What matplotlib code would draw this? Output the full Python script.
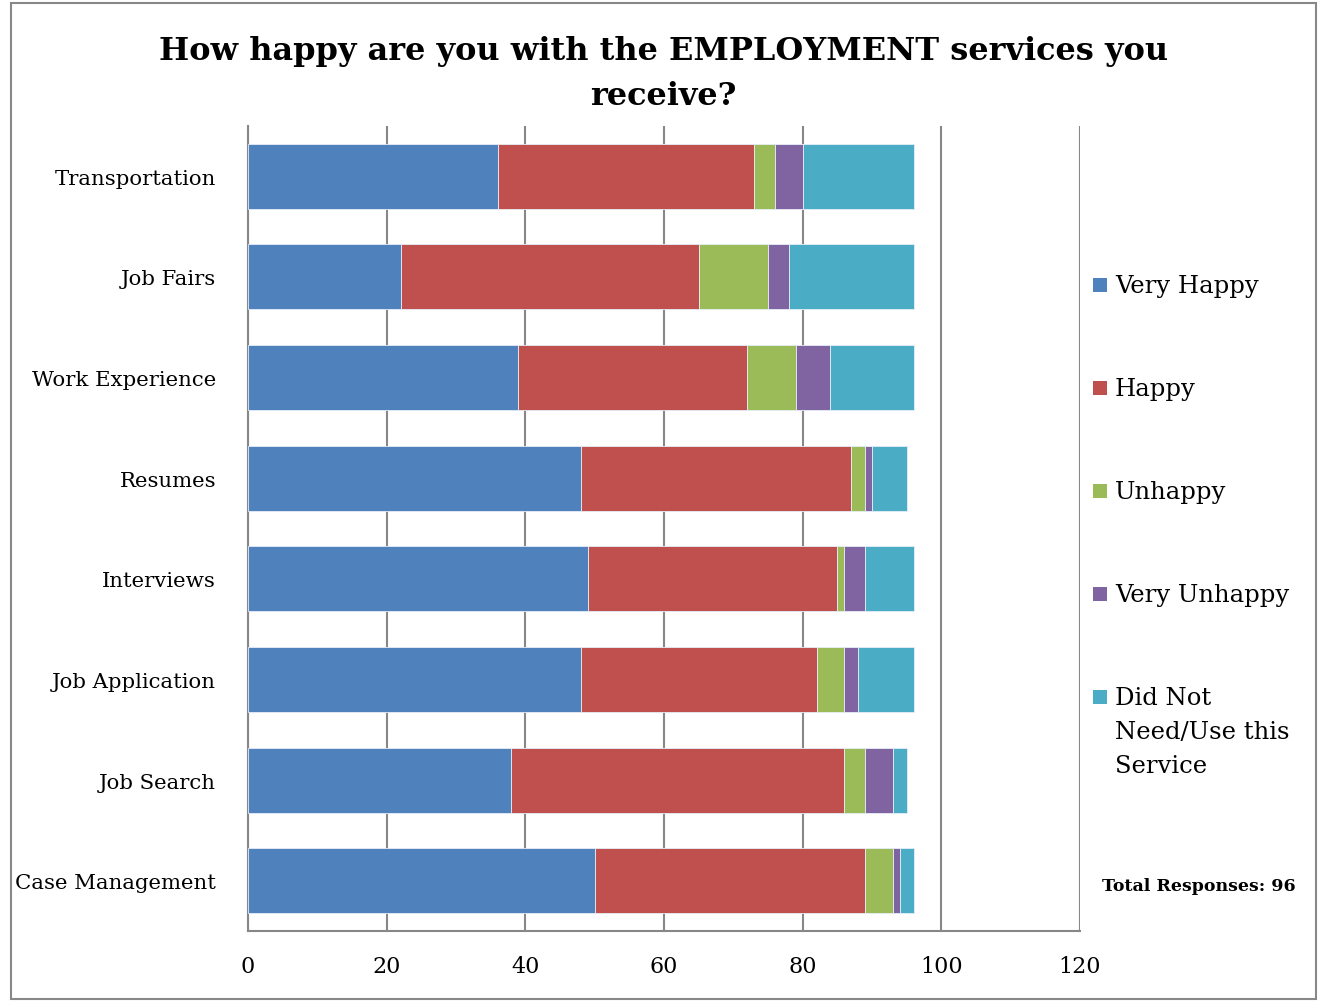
import matplotlib
matplotlib.use('Agg')
import matplotlib.pyplot as plt
from matplotlib.patches import Rectangle
import numpy as np

# Survey responses (counts), categories listed top to bottom
categories = ['Transportation', 'Job Fairs', 'Work Experience', 'Resumes',
              'Interviews', 'Job Application', 'Job Search', 'Case Management']
very_happy = [36, 22, 39, 48, 49, 48, 38, 50]
happy = [37, 43, 33, 39, 36, 34, 48, 39]
unhappy = [3, 10, 7, 2, 1, 4, 3, 4]
very_unhappy = [4, 3, 5, 1, 3, 2, 4, 1]
not_used = [16, 18, 12, 5, 7, 8, 2, 2]

series_names = ['Very Happy', 'Happy', 'Unhappy', 'Very Unhappy',
                'Did Not\nNeed/Use this\nService']
colors = ['#4F81BD', '#C0504D', '#9BBB59', '#8064A2', '#4BACC6']
x_ticks = [0, 20, 40, 60, 80, 100, 120]

plt.rcParams['font.family'] = ['DejaVu Serif']

W, H = 1319, 1004
fig = plt.figure(figsize=(W / 100, H / 100), dpi=100)
ax = fig.add_axes([248 / W, 72 / H, 832 / W, 805 / H])

y = np.arange(len(categories))
left = np.zeros(len(categories))
for vals, name, c in zip([very_happy, happy, unhappy, very_unhappy, not_used],
                         series_names, colors):
    ax.barh(y, vals, left=left, height=0.645, color=c, label=name,
            edgecolor='#e6eef7', linewidth=0.6, zorder=3)
    left += np.array(vals)

ax.set_xlim(0, 120)
ax.set_ylim(len(categories) - 0.5, -0.5)
ax.set_xticks(x_ticks)
ax.set_yticks(y)
ax.set_yticklabels(categories, fontsize=15.3)
ax.tick_params(axis='y', length=0, pad=23)
ax.tick_params(axis='x', length=0, pad=17, labelsize=16)
ax.grid(axis='x', color='#878787', linewidth=1.5, zorder=0)
for s in ['top', 'right']:
    ax.spines[s].set_visible(False)
for s in ['left', 'bottom']:
    ax.spines[s].set_color('#878787')
    ax.spines[s].set_linewidth(1.5)

fig.text(0.503, 1 - 74 / H,
         'How happy are you with the EMPLOYMENT services you\nreceive?',
         fontsize=23, fontweight='bold', ha='center', va='center',
         linespacing=1.6)

# legend drawn by hand so the multi-line entry keeps its marker at the top line
leg_top = 286
leg_step = 103
for i, (name, c) in enumerate(zip(series_names, colors)):
    yc = leg_top + i * leg_step
    fig.patches.append(Rectangle((1093 / W, 1 - (yc + 7) / H), 14 / W, 14 / H,
                                 transform=fig.transFigure, facecolor=c,
                                 edgecolor='none'))
    fig.text(1115 / W, 1 - (yc - 11) / H, name, fontsize=17.5, ha='left',
             va='top', linespacing=1.6)

fig.text(1199 / W, 1 - 887 / H, 'Total Responses: 96', fontsize=12.5,
         fontweight='bold', ha='center', va='center')

fig.patches.append(Rectangle((11 / W, 4 / H), 1305 / W, 996 / H,
                             transform=fig.transFigure, fill=False,
                             edgecolor='#888888', linewidth=1.5))

fig.savefig('out.png', dpi=100)
